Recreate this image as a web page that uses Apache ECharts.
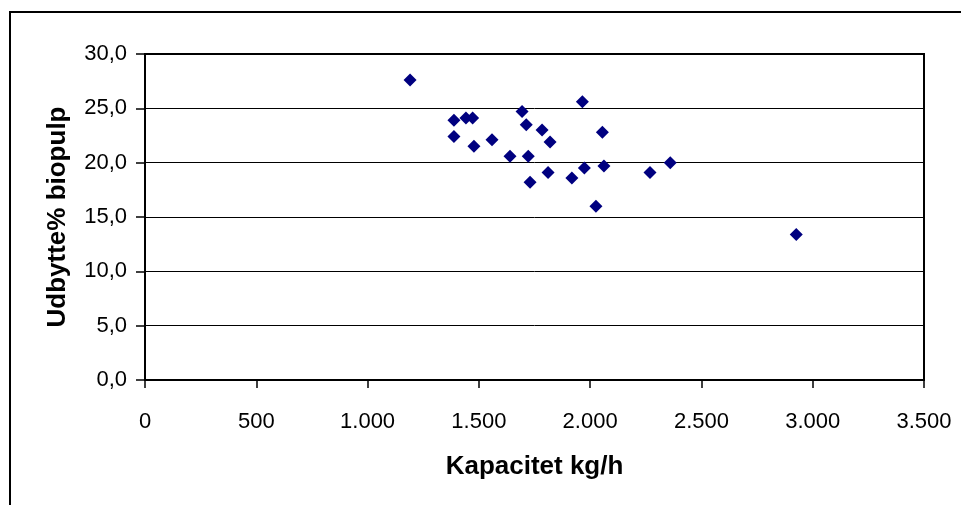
<!DOCTYPE html>
<html>
<head>
<meta charset="utf-8">
<script src="https://cdn.jsdelivr.net/npm/echarts@6/dist/echarts.min.js"></script>
<style>
  html, body { margin: 0; padding: 0; background: #fff; }
  #chart { width: 961px; height: 505px; }
</style>
</head>
<body>
<div id="chart"></div>
<script>
// Kapacitet (kg/h) og udbytte% biopulp
var kapacitet = [1191, 1388, 1442, 1472, 1388, 1478, 1559, 1640, 1694, 1713, 1784, 1820,
                 1722, 1730, 1811, 1918, 1965, 1974, 2026, 2055, 2062, 2269, 2360, 2926];
var udbytte = [27.6, 23.9, 24.1, 24.1, 22.4, 21.5, 22.1, 20.6, 24.7, 23.5, 23.0, 21.9,
               20.6, 18.2, 19.1, 18.6, 25.6, 19.5, 16.0, 22.8, 19.7, 19.1, 20.0, 13.4];

var xTitle = 'Kapacitet kg/h';
var yTitle = 'Udbytte% biopulp';

var FONT = '"Liberation Sans", Arial, sans-serif';

var points = kapacitet.map(function (x, i) { return [x, udbytte[i]]; });

function fmtX(v) {
    // tusindtalsseparator med punktum
    return String(v).replace(/\B(?=(\d{3})+(?!\d))/g, '.');
}
function fmtY(v) {
    return v.toFixed(1).replace('.', ',');
}

var myChart = echarts.init(document.getElementById('chart'), null, { renderer: 'canvas' });

myChart.setOption({
    backgroundColor: '#fff',
    animation: false,
    textStyle: { fontFamily: FONT },
    graphic: [{
        // ydre ramme (kun top og venstre synlig)
        type: 'rect',
        shape: { x: 10, y: 12, width: 1000, height: 600 },
        style: { fill: 'none', stroke: '#000', lineWidth: 2 },
        silent: true
    }],
    grid: {
        left: 145, top: 54, right: 37, bottom: 125,
        show: true,
        borderColor: '#000',
        borderWidth: 2,
        backgroundColor: '#fff'
    },
    xAxis: {
        type: 'value',
        min: 0, max: 3500, interval: 500,
        name: xTitle,
        nameLocation: 'middle',
        nameGap: 74,
        nameTextStyle: { fontSize: 26, fontWeight: 'bold', color: '#000', fontFamily: FONT },
        axisLine: { show: true, lineStyle: { color: '#000', width: 2 } },
        axisTick: { show: true, length: 8, lineStyle: { color: '#000', width: 1.5 } },
        axisLabel: { fontSize: 22, color: '#000', margin: 31, formatter: fmtX, fontFamily: FONT },
        splitLine: { show: false }
    },
    yAxis: {
        type: 'value',
        min: 0, max: 30, interval: 5,
        name: yTitle,
        nameLocation: 'middle',
        nameGap: 74,
        nameRotate: 90,
        nameTextStyle: { fontSize: 26, fontWeight: 'bold', color: '#000', fontFamily: FONT },
        axisLine: { show: true, lineStyle: { color: '#000', width: 2 } },
        axisTick: { show: true, length: 9, lineStyle: { color: '#000', width: 1.5 } },
        axisLabel: { fontSize: 22, color: '#000', margin: 18, formatter: fmtY, fontFamily: FONT },
        splitLine: { show: true, lineStyle: { color: '#000', width: 1 } }
    },
    series: [{
        type: 'scatter',
        symbol: 'diamond',
        symbolSize: 13,
        itemStyle: { color: '#000080', opacity: 1 },
        data: points
    }]
});
</script>
</body>
</html>
